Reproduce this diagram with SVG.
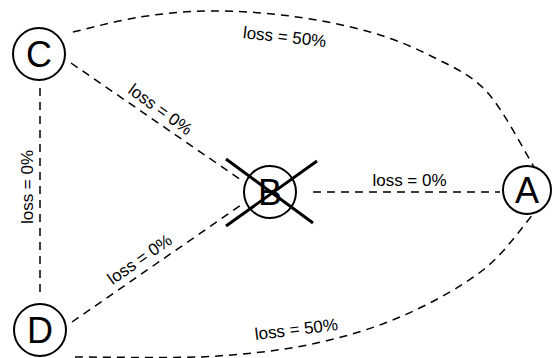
<svg xmlns="http://www.w3.org/2000/svg" width="552" height="358" viewBox="0 0 552 358">
<style>
.edge{fill:none;stroke:#000;stroke-width:1.5;stroke-dasharray:8 6}
.node{fill:#fff;stroke:#000;stroke-width:2}
.nl{font-family:"Liberation Sans",Arial,sans-serif;font-size:36px;text-anchor:middle;fill:#000}
.lbl{font-family:"Liberation Sans",Arial,sans-serif;font-size:17px;text-anchor:middle;fill:#000}
.cross{stroke:#000;stroke-width:3;fill:none}
</style>
<rect width="552" height="358" fill="#fff"/>
<g id="edges">
<path class="edge" d="M73,32 C84.2,29.5 117.2,20.5 140,17 C162.8,13.5 185,11.2 210,11 C235,10.8 263.3,12.5 290,16 C316.7,19.5 346.2,25.2 370,32 C393.8,38.8 413.5,47 433,57 C452.5,67 470.2,73.7 487,92 C503.8,110.3 526.2,154.5 534,167"/>
<path class="edge" d="M75,357 C95.8,357 161,358 200,357 C238.7,355 273.7,351.7 307,345 C340.3,338.3 370.7,329.5 400,317 C429.3,304.5 460.7,287.3 483,270 C505.3,252.7 525.5,222.5 534,213"/>
<line class="edge" x1="71" y1="63" x2="244" y2="182"/>
<line class="edge" x1="72" y1="322" x2="244" y2="203"/>
<line class="edge" x1="40" y1="88" x2="40" y2="298"/>
<line class="edge" x1="313" y1="192" x2="500" y2="192"/>
<text class="lbl" transform="translate(284,42.5) rotate(6.2)">loss = 50%</text>
<text class="lbl" transform="translate(297,335) rotate(-6.9)">loss = 50%</text>
<text class="lbl" x="409.5" y="186">loss = 0%</text>
<text class="lbl" transform="translate(33,187) rotate(-90)">loss = 0%</text>
<text class="lbl" transform="translate(157,114) rotate(36)">loss = 0%</text>
<text class="lbl" transform="translate(143,264) rotate(-35)">loss = 0%</text>
</g>
<g id="node-C">
<circle class="node" cx="39" cy="54" r="26"/>
<text class="nl" x="39" y="67">C</text>
</g>
<g id="node-D">
<circle class="node" cx="40" cy="330" r="26"/>
<text class="nl" x="40" y="343">D</text>
</g>
<g id="node-B">
<circle class="node" cx="270" cy="192" r="26"/>
<text class="nl" x="270" y="205">B</text>
<line class="cross" x1="226" y1="159" x2="313" y2="223"/>
<line class="cross" x1="226" y1="226" x2="317" y2="161"/>
</g>
<g id="node-A">
<circle class="node" cx="527" cy="190" r="24"/>
<text class="nl" x="527" y="203">A</text>
</g>
</svg>
